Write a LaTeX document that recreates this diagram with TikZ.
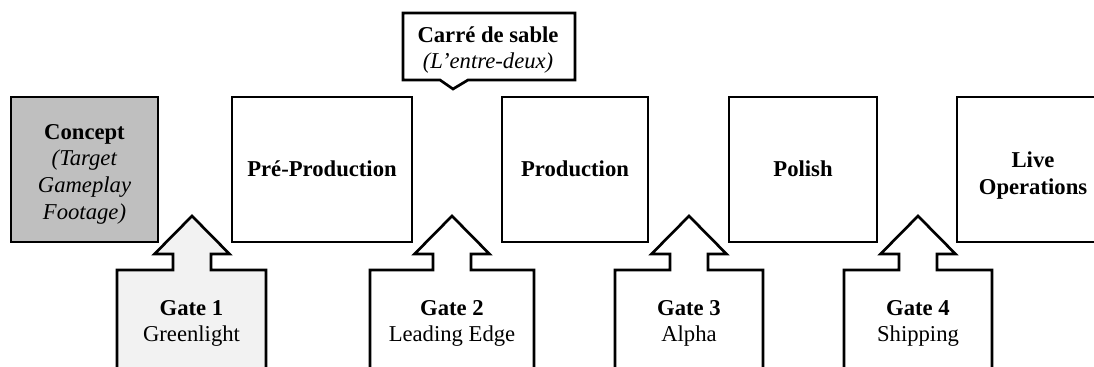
\documentclass[tikz,border=0pt]{standalone}
\usepackage{fontspec}
\setmainfont{Liberation Serif}
\definecolor{conceptgray}{HTML}{BFBFBF}
\definecolor{gatelight}{HTML}{F2F2F2}
\tikzset{
  phasebox/.style={draw=black, line width=2pt, rectangle, inner sep=0pt,
    minimum height=108.75pt},
  label/.style={inner sep=0pt, align=center, font=\fontsize{17}{20}\selectfont},
  gateline/.style={draw=black, line width=2pt, line join=miter},
}
% gate marker: arrow tip x, body left x, body right x, fill colour
\newcommand{\gateshape}[4]{%
  \draw[gateline, fill=#4] (#2,380) -- (#2,270) -- (#1-19,270) -- (#1-19,254)
    -- (#1-37.5,254) -- (#1,216) -- (#1+37.5,254) -- (#1+19,254) -- (#1+19,270)
    -- (#3,270) -- (#3,380) -- cycle;}
\begin{document}
\begin{tikzpicture}[x=0.75pt, y=-0.75pt]
\useasboundingbox (0,0) rectangle (1094,367);
\clip (0,0) rectangle (1094,367);

% phase boxes
\node[phasebox, fill=conceptgray, minimum width=110.25pt] (concept) at (84.5,169.5) {};
\node[phasebox, fill=white, minimum width=135pt] (preprod) at (322,169.5) {};
\node[phasebox, fill=white, minimum width=109.5pt] (prod) at (575,169.5) {};
\node[phasebox, fill=white, minimum width=111pt] (polish) at (803,169.5) {};
\node[phasebox, fill=white, minimum width=110.25pt] (liveops) at (1030.5,169.5) {};

\node[label] (concept-t) at (84.5,174) {\textbf{Concept}\\\textit{(Target}\\\textit{Gameplay}\\\textit{Footage)}};
\node[label, anchor=base] (preprod-t) at (322,176) {\textbf{Pré-Production}};
\node[label, anchor=base] (prod-t) at (575,176) {\textbf{Production}};
\node[label, anchor=base] (polish-t) at (803,176) {\textbf{Polish}};
\node[label] (liveops-t) at (1033,175.5) {\textbf{Live}\\\textbf{Operations}};

% sandbox callout between pre-production and production
\draw[gateline, fill=white] (403,13) -- (575,13) -- (575,80) -- (468,80)
  -- (453,89) -- (440,80) -- (403,80) -- cycle;
\node[label] (sandbox) at (488,50) {\textbf{Carré de sable}\\\textit{(L’entre-deux)}};

% gates
\gateshape{192}{117}{266}{gatelight}
\node[label] (gate1) at (191.5,323.5) {\textbf{Gate 1}\\Greenlight};
\gateshape{452}{370}{534}{white}
\node[label] (gate2) at (452,323.5) {\textbf{Gate 2}\\Leading Edge};
\gateshape{689}{615}{763}{white}
\node[label] (gate3) at (689,323.5) {\textbf{Gate 3}\\Alpha};
\gateshape{918}{844}{992}{white}
\node[label] (gate4) at (918,323.5) {\textbf{Gate 4}\\Shipping};
\end{tikzpicture}
\end{document}
